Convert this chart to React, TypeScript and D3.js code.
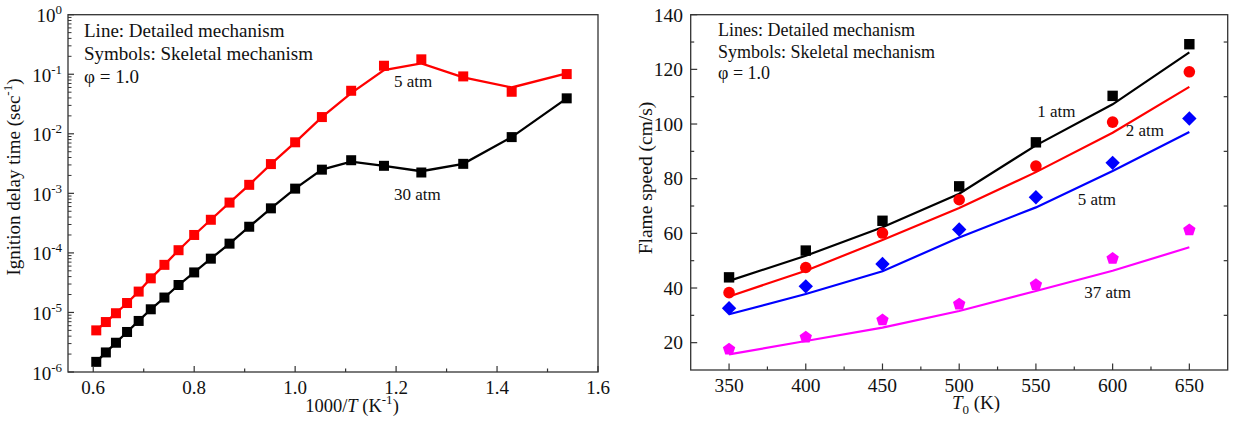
import React from "react";
import * as d3 from "d3";

// ---------- Left panel data (ignition delay) ----------
const invT = [0.606, 0.625, 0.645, 0.667, 0.69, 0.714, 0.741, 0.769, 0.8, 0.833, 0.87, 0.909, 0.952, 1.0, 1.053, 1.111, 1.176, 1.25, 1.333, 1.429, 1.538];
const idt5Sym = [5.0e-6, 6.9e-6, 9.7e-6, 1.44e-5, 2.24e-5, 3.74e-5, 6.3e-5, 1.11e-4, 2.0e-4, 3.6e-4, 7.0e-4, 1.39e-3, 3.1e-3, 7.2e-3, 0.0191, 0.0528, 0.139, 0.178, 0.092, 0.0508, 0.1007];
const idt5Line = [5.0e-6, 6.9e-6, 9.7e-6, 1.44e-5, 2.24e-5, 3.74e-5, 6.3e-5, 1.11e-4, 2.0e-4, 3.6e-4, 7.0e-4, 1.39e-3, 3.1e-3, 7.2e-3, 0.0191, 0.0483, 0.1177, 0.152, 0.0887, 0.06, 0.1035];
const idt30Sym = [1.48e-6, 2.13e-6, 3.1e-6, 4.7e-6, 7.2e-6, 1.13e-5, 1.78e-5, 2.89e-5, 4.7e-5, 8.0e-5, 1.43e-4, 2.75e-4, 5.6e-4, 1.2e-3, 2.5e-3, 3.6e-3, 2.9e-3, 2.24e-3, 3.13e-3, 8.8e-3, 0.0394];
const idt30Line = [1.48e-6, 2.13e-6, 3.1e-6, 4.7e-6, 7.2e-6, 1.13e-5, 1.78e-5, 2.89e-5, 4.7e-5, 8.0e-5, 1.43e-4, 2.75e-4, 5.6e-4, 1.2e-3, 2.5e-3, 3.4e-3, 2.9e-3, 2.35e-3, 3.13e-3, 8.8e-3, 0.0394];
const leftXTicks = [0.6, 0.8, 1.0, 1.2, 1.4, 1.6];
const leftXMinor = [0.7, 0.9, 1.1, 1.3, 1.5];
const leftYExp = [0, -1, -2, -3, -4, -5, -6];

// ---------- Right panel data (flame speed) ----------
const T0 = [350, 400, 450, 500, 550, 600, 650];
const s1Sym = [43.9, 53.7, 64.6, 77.2, 93.3, 110.3, 129.2];
const s1Line = [42.6, 51.8, 62.2, 74.5, 92.2, 107.2, 126.2];
const s2Sym = [38.3, 47.5, 60.1, 72.3, 84.6, 100.7, 119.1];
const s2Line = [36.9, 46.3, 57.6, 69.3, 82.4, 96.8, 113.6];
const s5Sym = [32.6, 40.6, 48.8, 61.4, 73.2, 85.8, 102.0];
const s5Line = [30.4, 37.8, 46.1, 58.5, 69.5, 82.8, 97.1];
const s37Sym = [17.6, 22.0, 28.3, 34.1, 41.2, 50.8, 61.2];
const s37Line = [15.7, 20.6, 25.5, 31.6, 38.9, 46.3, 54.9];
const rightXTicks = [350, 400, 450, 500, 550, 600, 650];
const rightXMinor = [375, 425, 475, 525, 575, 625];
const rightYTicks = [20, 40, 60, 80, 100, 120, 140];
const rightYMinor = [30, 50, 70, 90, 110, 130];

const FONT = "'Liberation Serif', 'Times New Roman', serif";
const FRAME = "#333";

function pentagonPath(cx: number, cy: number, r: number) {
  const pts = d3.range(5).map((i) => {
    const a = -Math.PI / 2 + (i * 2 * Math.PI) / 5;
    return [cx + r * Math.cos(a), cy + r * Math.sin(a)];
  });
  return "M" + pts.map((p) => p.join(",")).join("L") + "Z";
}
function diamondPath(cx: number, cy: number, r: number) {
  return `M${cx},${cy - r}L${cx + r},${cy}L${cx},${cy + r}L${cx - r},${cy}Z`;
}

function LeftPanel() {
  const L = { left: 68, right: 598, top: 14.7, bottom: 372 };
  const x = d3.scaleLinear().domain([0.55, 1.6]).range([L.left, L.right]);
  const y = d3.scaleLog().domain([1e-6, 1]).range([L.bottom, L.top]);
  const line = d3
    .line<[number, number]>()
    .x((d) => x(d[0]))
    .y((d) => y(d[1]));
  const minorY: number[] = [];
  for (let e = -6; e < 0; e++) for (let k = 2; k <= 9; k++) minorY.push(k * Math.pow(10, e));
  const series = [
    { sym: idt5Sym, ln: idt5Line, color: "#ff0000" },
    { sym: idt30Sym, ln: idt30Line, color: "#000000" },
  ];
  return (
    <g fontFamily={FONT} fill="#111">
      {series.map((s, i) => (
        <g key={i}>
          <path d={line(invT.map((v, j) => [v, s.ln[j]]) as any) || ""} fill="none" stroke={s.color} strokeWidth={2.3} />
          {invT.map((v, j) => (
            <rect key={j} x={x(v) - 5} y={y(s.sym[j]) - 5} width={10} height={10} fill={s.color} />
          ))}
        </g>
      ))}
      <rect x={L.left} y={L.top} width={L.right - L.left} height={L.bottom - L.top} fill="none" stroke={FRAME} strokeWidth={1.3} />
      {leftXTicks.map((t) => (
        <g key={t}>
          <line x1={x(t)} x2={x(t)} y1={L.bottom} y2={L.bottom - 6} stroke={FRAME} strokeWidth={1.2} />
          <text x={x(t)} y={393.5} textAnchor="middle" fontSize={19}>{t.toFixed(1)}</text>
        </g>
      ))}
      {leftXMinor.map((t) => (
        <line key={t} x1={x(t)} x2={x(t)} y1={L.bottom} y2={L.bottom - 3.5} stroke={FRAME} strokeWidth={1.2} />
      ))}
      {leftYExp.map((e) => (
        <g key={e}>
          <line x1={L.left} x2={L.left + 6} y1={y(Math.pow(10, e))} y2={y(Math.pow(10, e))} stroke={FRAME} strokeWidth={1.2} />
          <text x={62} y={y(Math.pow(10, e)) + 7.5} textAnchor="end" fontSize={19}>
            10<tspan fontSize={13} dy={-8}>{e === 0 ? "0" : "-" + -e}</tspan>
          </text>
        </g>
      ))}
      {minorY.map((v, i) => (
        <line key={i} x1={L.left} x2={L.left + 3.5} y1={y(v)} y2={y(v)} stroke={FRAME} strokeWidth={1} />
      ))}
      <text x={84} y={37.3} fontSize={19}>Line: Detailed mechanism</text>
      <text x={84} y={60} fontSize={19}>Symbols: Skeletal mechanism</text>
      <text x={84} y={82.5} fontSize={19}>φ = 1.0</text>
      <text x={394} y={86.7} fontSize={17}>5 atm</text>
      <text x={394} y={200} fontSize={17}>30 atm</text>
      <text x={352} y={412} textAnchor="middle" fontSize={18.5}>
        1000/<tspan fontStyle="italic">T</tspan> (K<tspan fontSize={13} dy={-8}>-1</tspan><tspan dy={8}>)</tspan>
      </text>
      <text transform="translate(20,177) rotate(-90)" textAnchor="middle" fontSize={19}>
        Ignition delay time (sec<tspan fontSize={13} dy={-8}>-1</tspan><tspan dy={8}>)</tspan>
      </text>
    </g>
  );
}

function RightPanel() {
  const R = { left: 690.7, right: 1227.7, top: 14.7, bottom: 370 };
  const x = d3.scaleLinear().domain([325, 675]).range([R.left, R.right]);
  const y = d3.scaleLinear().domain([10, 140]).range([R.bottom, R.top]);
  const line = d3
    .line<[number, number]>()
    .x((d) => x(d[0]))
    .y((d) => y(d[1]));
  const series = [
    { sym: s1Sym, ln: s1Line, color: "#000000", shape: "square" },
    { sym: s2Sym, ln: s2Line, color: "#ff0000", shape: "circle" },
    { sym: s5Sym, ln: s5Line, color: "#0000ff", shape: "diamond" },
    { sym: s37Sym, ln: s37Line, color: "#ff00ff", shape: "pentagon" },
  ];
  return (
    <g fontFamily={FONT} fill="#111">
      {series.map((s, i) => (
        <g key={i}>
          <path d={line(T0.map((v, j) => [v, s.ln[j]]) as any) || ""} fill="none" stroke={s.color} strokeWidth={2.2} />
          {T0.map((v, j) => {
            const cx = x(v);
            const cy = y(s.sym[j]);
            if (s.shape === "square") return <rect key={j} x={cx - 5.2} y={cy - 5.2} width={10.4} height={10.4} fill={s.color} />;
            if (s.shape === "circle") return <circle key={j} cx={cx} cy={cy} r={5.8} fill={s.color} />;
            if (s.shape === "diamond") return <path key={j} d={diamondPath(cx, cy, 7.2)} fill={s.color} />;
            return <path key={j} d={pentagonPath(cx, cy, 6.5)} fill={s.color} />;
          })}
        </g>
      ))}
      <rect x={R.left} y={R.top} width={R.right - R.left} height={R.bottom - R.top} fill="none" stroke={FRAME} strokeWidth={1.3} />
      {rightXTicks.map((t) => (
        <g key={t}>
          <line x1={x(t)} x2={x(t)} y1={R.bottom} y2={R.bottom - 6.5} stroke={FRAME} strokeWidth={1.2} />
          <text x={x(t)} y={391.5} textAnchor="middle" fontSize={19.5}>{t}</text>
        </g>
      ))}
      {rightXMinor.map((t) => (
        <line key={t} x1={x(t)} x2={x(t)} y1={R.bottom} y2={R.bottom - 3.5} stroke={FRAME} strokeWidth={1.2} />
      ))}
      {rightYTicks.map((t) => (
        <g key={t}>
          <line x1={R.left} x2={R.left + 6.5} y1={y(t)} y2={y(t)} stroke={FRAME} strokeWidth={1.2} />
          <text x={683} y={y(t) + 6.8} textAnchor="end" fontSize={19.5}>{t}</text>
        </g>
      ))}
      {rightYMinor.map((t) => (
        <g key={t}>
          <line x1={R.left} x2={R.left + 3.5} y1={y(t)} y2={y(t)} stroke={FRAME} strokeWidth={1.2} />
          <line x1={R.right} x2={R.right - 4} y1={y(t)} y2={y(t)} stroke={FRAME} strokeWidth={1.2} />
        </g>
      ))}
      <text x={718} y={36} fontSize={18}>Lines: Detailed mechanism</text>
      <text x={718} y={57.5} fontSize={18}>Symbols: Skeletal mechanism</text>
      <text x={718} y={79} fontSize={18}>φ = 1.0</text>
      <text x={1037.3} y={117.3} fontSize={17}>1 atm</text>
      <text x={1125.7} y={136} fontSize={17}>2 atm</text>
      <text x={1077.7} y={205} fontSize={17}>5 atm</text>
      <text x={1084.3} y={297.7} fontSize={17}>37 atm</text>
      <text x={976} y={409} textAnchor="middle" fontSize={19}>
        <tspan fontStyle="italic">T</tspan><tspan fontSize={13} dy={5}>0</tspan><tspan dy={-5}> (K)</tspan>
      </text>
      <text transform="translate(652,178) rotate(-90)" textAnchor="middle" fontSize={19.5}>
        Flame speed (cm/s)
      </text>
    </g>
  );
}

export default function App() {
  return (
    <div style={{ position: "absolute", left: 0, top: 0 }}>
      <svg width={1235} height={427} viewBox="0 0 1235 427" style={{ display: "block", background: "#fff" }}>
        <rect width={1235} height={427} fill="#fff" />
        <LeftPanel />
        <RightPanel />
      </svg>
    </div>
  );
}
